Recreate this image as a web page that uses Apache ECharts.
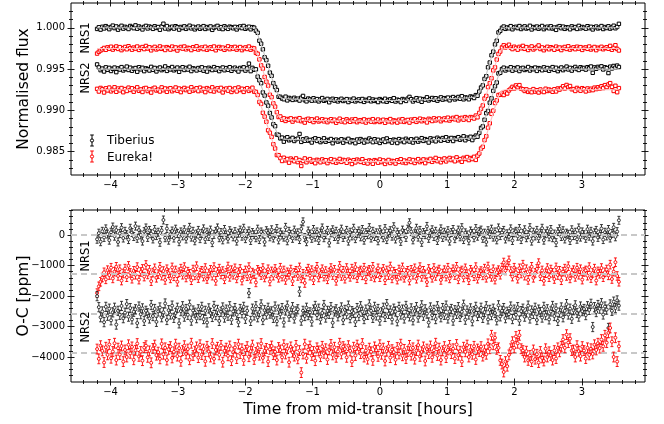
<!DOCTYPE html>
<html><head><meta charset="utf-8">
<script src="https://cdn.jsdelivr.net/npm/echarts@6/dist/echarts.min.js"></script>
<style>html,body{margin:0;padding:0;background:#fff}#c{width:664px;height:424px}</style>
</head><body><div id="c"></div>
<script>
// ---- time sampling (cadence) ----
const tStart = -4.20, tEnd = 3.55, nPts = 300;

// ---- normalised transit shape (fraction of depth) ----
const transitShape = [
0,0,0,0,0,0,0,0,0,0,0,0,0,0,0,0,0,0,0,0,
0,0,0,0,0,0,0,0,0,0,0,0,0,0,0,0,0,0,0,0,
0,0,0,0,0,0,0,0,0,0,0,0,0,0,0,0,0,0,0,0,
0,0,0,0,0,0,0,0,0,0,0,0,0,0,0,0,0,0,0,0,
0,0,0,0,0,0,0,0,0,0,0,
0.03,0.09,0.16,0.23,0.30,0.38,0.46,0.53,0.61,0.68,0.75,0.82,0.88,0.93,0.96,0.973,
0.975,0.976,0.977,0.978,0.979,0.980,0.981,0.982,0.983,0.984,
0.985,0.986,0.987,0.987,0.988,0.989,0.990,0.990,0.991,0.992,
0.992,0.993,0.993,0.994,0.994,0.995,0.995,0.996,0.996,0.996,
0.997,0.997,0.997,0.998,0.998,0.998,0.998,0.999,0.999,0.999,
0.999,0.999,1,1,1,1,1,1,1,1,
1,1,1,1,1,
1,1,1,1,1,1,1,1,0.999,0.999,
0.999,0.998,0.998,0.998,0.997,0.997,0.996,0.996,0.995,0.995,
0.994,0.993,0.993,0.992,0.991,0.990,0.989,0.988,0.987,0.986,
0.985,0.984,0.983,0.982,0.981,0.980,0.979,0.978,0.977,0.976,
0.975,0.974,0.973,0.972,0.971,0.970,0.969,0.968,0.967,0.966,
0.964,0.962,0.960,0.958,0.956,
0.95,0.93,0.89,0.84,0.78,0.71,0.64,0.56,0.48,0.40,0.32,0.24,0.16,0.09,0.04,0.01,
0,0,0,0,0,0,0,0,0,0,0,0,0,0,0,0,0,0,0,0,
0,0,0,0,0,0,0,0,0,0,0,0,0,0,0,0,0,0,0,0,
0,0,0,0,0,0,0,0,0,0,0,0,0,0,0,0,0,0,0,0,
0,0,0,0,0,0,0
];

// ---- out-of-transit levels and depths (top panel) ----
const seriesNames = ['NRS1 Tiberius','NRS1 Eureka!','NRS2 Tiberius','NRS2 Eureka!'];
const baseline = [1.0000, 0.9975, 0.9950, 0.9925];
const depth = [0.0088, 0.0088, 0.0087, 0.0087];
// ---- residual offsets in the O-C panel (ppm) ----
const ocOffsets = [0, -1280, -2560, -3840];
// ---- per-point uncertainties (ppm) ----
const errPpm = [130, 140, 150, 160];

// ---- residuals (ppm) ----
const resNRS1Tiberius = [
-140,60,-220,120,-80,200,30,-170,90,260,-40,160,-230,50,240,-100,120,10,-150,220,
80,-50,290,-110,160,0,-200,110,230,-80,150,40,-130,180,-20,90,-240,150,490,-90,
210,-170,20,130,-100,190,50,-220,100,-30,170,-130,70,250,-70,120,-190,30,150,-120,
50,200,-140,90,-50,160,-250,20,120,230,-90,80,-160,180,0,-130,140,60,-60,110,
-200,60,160,-40,220,-120,40,130,-180,80,10,-90,190,-150,100,30,-230,140,70,-60,
170,-100,50,210,-160,90,0,-70,250,-190,120,20,-110,160,-30,70,-150,200,430,-80,
-220,130,30,-110,180,-70,100,-180,60,230,-90,10,150,-260,70,170,-50,120,-140,50,
190,-80,20,150,-200,90,-30,220,-120,50,130,-60,180,-170,80,10,240,-100,120,-50,
70,-190,170,30,-90,210,-150,60,140,-40,270,-130,90,10,-210,160,50,-80,190,400,
110,-160,40,220,-70,150,-240,80,10,280,-110,60,170,-50,120,-180,30,200,-80,90,
-30,140,-200,80,180,-120,20,160,-60,240,-150,70,0,-190,130,50,-90,210,-40,110,
160,-110,60,-230,140,20,190,-70,100,-160,230,-20,80,150,-130,40,-60,200,-180,70,
120,-40,210,-150,50,170,-90,10,240,-200,90,-30,150,-110,60,220,-170,40,130,-60,
180,-90,30,-250,110,200,-50,140,-130,60,20,-180,170,-20,90,-140,230,-70,100,10,
-110,190,-40,120,-200,70,150,-80,30,210,-150,90,-30,180,-100,50,250,-60,110,480];
const resNRS1Eureka = [
-620,-400,-250,-110,60,-170,130,-30,210,-140,80,240,-60,160,-210,20,180,-100,270,40,
-150,110,-20,230,-180,70,170,-80,300,-10,140,-230,50,190,-120,0,240,-50,100,-190,
160,30,-140,220,-70,120,-250,60,180,-20,230,-110,80,10,-200,150,-40,260,-130,50,
110,-80,200,-160,20,140,-50,230,-220,70,180,-10,100,-170,40,250,-90,130,-20,190,
-140,60,170,-210,10,120,-70,230,-150,50,0,-270,140,80,-30,200,-110,20,160,-240,
90,-50,170,30,-120,210,-80,120,-190,60,-20,150,-230,40,110,-60,220,-140,10,-290,
80,180,-50,130,-200,70,240,-110,30,160,-80,100,-170,50,200,-30,140,-220,20,270,
-60,110,-150,200,20,-90,180,-10,230,-130,70,120,-40,210,-170,90,140,-60,240,-110,
30,190,-100,60,170,-200,120,-30,250,-140,80,10,-180,150,-50,220,-120,40,110,-210,
140,-20,190,-150,60,230,-90,110,-10,-260,170,40,-120,200,-60,90,150,-190,20,130,
-80,210,-140,50,160,-30,240,-170,70,120,-110,190,0,-200,140,60,-70,230,-150,30,
100,-40,180,-120,250,20,-90,160,-180,60,130,-20,210,380,120,290,450,100,-80,210,
60,-150,190,20,310,-50,160,-190,90,240,-120,40,170,360,-70,120,-220,30,200,-100,
150,40,-160,220,-30,110,-200,80,180,-60,260,-140,50,130,-90,210,-20,160,-180,70,
120,-50,230,-130,40,180,-210,90,10,200,-100,60,150,-40,310,-160,80,390,-60,-250];
const resNRS2Tiberius = [
560,200,-130,60,-290,210,-80,150,-230,30,180,-370,80,-50,240,-160,20,300,-110,170,
-200,50,130,-320,220,-30,160,-250,80,0,-170,270,-90,140,-280,60,190,-130,30,320,
-220,100,-40,250,-150,10,180,-330,70,230,-110,140,-50,280,-240,90,20,-160,130,-60,
210,-190,80,-300,160,10,-120,240,-60,110,-250,50,190,-140,120,-80,230,-210,60,170,
-50,-290,140,0,210,-180,80,660,-250,150,-70,230,-130,40,290,-220,100,-40,180,-10,
60,-150,220,-260,120,-30,170,-300,90,250,-110,20,200,-170,60,130,710,-240,80,-90,
180,-60,30,-270,120,240,-60,150,-200,10,270,-140,80,-20,200,-310,60,130,-100,40,
190,-220,110,-30,250,-160,70,10,-280,170,-90,230,50,-190,120,-50,290,80,-150,210,
-70,140,-240,30,180,-120,300,-20,90,-200,150,60,-260,210,-40,120,-170,240,20,-100,
160,-230,70,200,-140,40,260,-80,130,-10,-300,190,-60,110,-190,230,30,-130,170,-50,
250,-170,60,140,-240,100,-20,200,-120,50,280,-210,90,-40,160,-260,70,210,-90,20,
180,-150,40,230,-200,110,-60,150,10,-230,260,-100,80,170,-160,50,-30,220,-190,120,
-50,200,-240,70,150,-110,30,250,-170,90,-20,180,-220,120,40,-140,210,-60,130,-200,
60,240,-90,160,-250,20,190,-130,80,300,-40,150,-180,100,260,10,-110,220,70,140,
-60,230,110,310,-450,200,40,270,150,330,-40,220,120,-480,290,80,380,170,420,250];
const resNRS2Eureka = [
110,-210,220,50,-330,170,-80,260,-190,30,300,-250,140,-70,210,-300,80,-150,250,-30,
180,-240,70,290,-130,30,-270,160,220,-160,50,-340,130,240,-90,10,-210,280,-60,150,
-250,100,190,-180,20,270,-120,140,-290,60,220,-50,110,-240,300,-100,40,180,-170,250,
-70,110,-290,200,30,-150,290,-210,80,170,-80,230,-320,50,140,-110,210,-270,10,160,
-200,270,-40,120,-260,70,190,-140,40,240,-230,0,150,-90,290,-180,50,130,-300,100,
210,-70,20,-250,160,80,-160,250,-50,120,-320,180,10,-120,230,-210,60,-660,-50,270,
-190,90,210,-100,30,-270,150,50,-140,200,-30,120,-230,80,260,-80,170,-160,30,300,
-50,190,110,-160,220,50,-300,170,-100,240,110,-40,290,-150,60,-220,140,20,-260,180,
70,-130,250,-60,140,-280,40,200,-170,90,10,-240,160,-50,270,-110,100,-200,30,230,
-90,150,-220,60,240,-130,20,180,-280,110,-40,210,-160,70,300,-100,140,-250,50,190,
-170,80,230,-40,120,-200,260,-90,40,-300,170,20,240,-150,90,-60,200,-230,110,30,
190,-120,80,-60,280,120,560,250,480,100,150,-260,-380,-640,-300,-450,-80,120,350,150,
520,300,560,120,60,-150,40,-260,-100,-300,80,-220,-60,-330,30,-180,-280,120,-150,20,
-100,-250,60,-200,150,20,200,420,150,580,320,450,60,80,-150,220,40,-120,190,60,
-200,150,-80,120,-50,250,80,300,140,420,200,560,320,640,800,350,-150,480,-300,200];
const residuals = [resNRS1Tiberius, resNRS1Eureka, resNRS2Tiberius, resNRS2Eureka];
const seriesColors = ['#000000', '#ff0000', '#000000', '#ff0000'];
const modelColors = ['#c4c4c4', '#ffc0c0', '#c4c4c4', '#ffc0c0'];

// ---- axis ranges & ticks ----
const xMin = -4.5875, xMax = 3.9375;
const yTopMin = 0.98218, yTopMax = 1.0030;
const yBotMin = -4807, yBotMax = 817;
const xMajor = [-4,-3,-2,-1,0,1,2,3];
const xMinor = [-4.4,-4.2,-3.8,-3.6,-3.4,-3.2,-2.8,-2.6,-2.4,-2.2,-1.8,-1.6,-1.4,-1.2,-0.8,-0.6,-0.4,-0.2,0.2,0.4,0.6,0.8,1.2,1.4,1.6,1.8,2.2,2.4,2.6,2.8,3.2,3.4,3.6,3.8];
const yTopMajor = [0.985,0.990,0.995,1.000];
const yTopMinor = [0.983,0.984,0.986,0.987,0.988,0.989,0.991,0.992,0.993,0.994,0.996,0.997,0.998,0.999,1.001,1.002];
const yBotMajor = [-4000,-3000,-2000,-1000,0];
const yBotMinor = [-4600,-4400,-4200,-3800,-3600,-3400,-3200,-2800,-2600,-2400,-2200,-1800,-1600,-1400,-1200,-800,-600,-400,-200,200,400,600,800];

const FONT = 'DejaVu Sans';
const times = [];
for (let i = 0; i < nPts; i++) times.push(tStart + i * (tEnd - tStart) / (nPts - 1));

const minusFmt = v => (v < 0 ? '\u2212' : '') + Math.abs(Math.round(v * 1000) / 1000);

function axesFor(kind, gridIndex, min, max, major, minor, fmt, labelSide) {
  const sides = kind === 'x' ? ['bottom', 'top'] : ['left', 'right'];
  const out = [];
  sides.forEach(side => {
    [['major', major, 7, -3.5], ['minor', minor, 4, -2]].forEach(([which, vals, len, off]) => {
      const showLab = side === labelSide && which === 'major';
      out.push({
        type: 'value', gridIndex, min, max, position: side, offset: off,
        splitLine: { show: false }, axisLine: { show: false, onZero: false },
        axisTick: { show: true, inside: false, length: len, customValues: vals, lineStyle: { color: '#000', width: 0.9 } },
        minorTick: { show: false },
        axisLabel: showLab ? { show: true, customValues: vals, formatter: fmt, fontSize: 10, color: '#000', fontFamily: FONT, margin: kind === 'x' ? 9 : 9.5 } : { show: false },
        axisPointer: { show: false }
      });
    });
  });
  return out;
}

const xAxes = [
  ...axesFor('x', 0, xMin, xMax, xMajor, xMinor, minusFmt, 'bottom'),
  ...axesFor('x', 1, xMin, xMax, xMajor, xMinor, minusFmt, 'bottom')
];
const yAxes = [
  ...axesFor('y', 0, yTopMin, yTopMax, yTopMajor, yTopMinor, v => v.toFixed(3), 'left'),
  ...axesFor('y', 1, yBotMin, yBotMax, yBotMajor, yBotMinor, minusFmt, 'left')
];

function makeRender(o) {
  return function (params, api) {
    const x = api.value(0), y = api.value(1), e = api.value(2);
    const c = api.coord([x, y]), hi = api.coord([x, y + e]), lo = api.coord([x, y - e]);
    const st = { stroke: o.color, lineWidth: o.lw };
    const m = o.msz / 2;
    const ch = [
      { type: 'line', shape: { x1: c[0], y1: hi[1], x2: c[0], y2: lo[1] }, style: st },
      { type: 'line', shape: { x1: c[0] - o.cap, y1: hi[1], x2: c[0] + o.cap, y2: hi[1] }, style: st },
      { type: 'line', shape: { x1: c[0] - o.cap, y1: lo[1], x2: c[0] + o.cap, y2: lo[1] }, style: st }
    ];
    if (o.marker === 'square') ch.push({ type: 'rect', shape: { x: c[0] - m, y: c[1] - m, width: 2 * m, height: 2 * m }, style: { fill: '#fff', stroke: o.color, lineWidth: o.lw } });
    else ch.push({ type: 'circle', shape: { cx: c[0], cy: c[1], r: m }, style: { fill: '#fff', stroke: o.color, lineWidth: o.lw } });
    return { type: 'group', children: ch, opacity: o.opacity };
  };
}

const series = [];
// Top panel: light curves + model
for (let k = 0; k < 4; k++) {
  const pts = times.map((t, i) => [t, baseline[k] - depth[k] * transitShape[i] + residuals[k][i] * 1e-6, errPpm[k] * 1e-6]);
  const mdl = times.map((t, i) => [t, baseline[k] - depth[k] * transitShape[i]]);
  series.push({
    name: seriesNames[k], type: 'custom', xAxisIndex: 0, yAxisIndex: 0, clip: true, z: 2 + k,
    renderItem: makeRender({ color: seriesColors[k], lw: 1.0, msz: 3.4, cap: 1.2, marker: 'square', opacity: 1 }),
    encode: { x: 0, y: 1 }, data: pts, silent: true
  });
  series.push({
    type: 'line', xAxisIndex: 0, yAxisIndex: 0, data: mdl, showSymbol: false, symbol: 'none', z: 10 + k,
    lineStyle: { color: modelColors[k], width: 1.1 }, silent: true, animation: false
  });
}
// dashed reference levels for O-C panel
series.push({
  type: 'line', xAxisIndex: 4, yAxisIndex: 4, data: [], z: 1, silent: true,
  markLine: { silent: true, symbol: 'none', label: { show: false }, animation: false,
    lineStyle: { color: '#c8c8c8', type: [6, 4], width: 1.8 },
    data: ocOffsets.map(v => ({ yAxis: v })) }
});
// Bottom panel: residuals
for (let k = 0; k < 4; k++) {
  const pts = times.map((t, i) => [t, residuals[k][i] + ocOffsets[k], errPpm[k]]);
  series.push({
    type: 'custom', xAxisIndex: 4, yAxisIndex: 4, clip: true, z: 3 + k,
    renderItem: makeRender({ color: k % 2 === 0 ? '#222222' : '#ff0000', lw: 0.9, msz: 3, cap: 1.5, marker: 'circle', opacity: 0.68 }),
    encode: { x: 0, y: 1 }, data: pts, silent: true
  });
}

function legendIcon(x, yc, color) {
  return [
    { type: 'line', shape: { x1: x, y1: yc - 5.5, x2: x, y2: yc + 5.5 }, style: { stroke: color, lineWidth: 1 } },
    { type: 'line', shape: { x1: x - 1.8, y1: yc - 5.5, x2: x + 1.8, y2: yc - 5.5 }, style: { stroke: color, lineWidth: 1 } },
    { type: 'line', shape: { x1: x - 1.8, y1: yc + 5.5, x2: x + 1.8, y2: yc + 5.5 }, style: { stroke: color, lineWidth: 1 } },
    { type: 'circle', shape: { cx: x, cy: yc, r: 1.6 }, style: { fill: '#fff', stroke: color, lineWidth: 1 } }
  ];
}
const rotText = (txt, x, y, size) => ({ type: 'text', x, y, rotation: Math.PI / 2, style: { text: txt, fill: '#000', font: size + 'px "' + FONT + '"', align: 'center', verticalAlign: 'middle' }, z: 50 });

const lengthsOk = [transitShape, ...residuals].every(a => a.length === nPts);

const option = {
  animation: false,
  backgroundColor: '#fff',
  title: lengthsOk ? { show: false } : { text: 'LEN ' + [transitShape, ...residuals].map(a => a.length).join(','), left: 200, top: 100 },
  grid: [
    { left: 71, right: 19, top: 3, height: 172, show: true, borderColor: '#000', borderWidth: 1, backgroundColor: 'transparent' },
    { left: 71, right: 19, top: 210, height: 172, show: true, borderColor: '#000', borderWidth: 1, backgroundColor: 'transparent' }
  ],
  xAxis: xAxes,
  yAxis: yAxes,
  series,
  graphic: [
    ...legendIcon(92, 140.5, '#000'), ...legendIcon(92, 156.5, '#ff0000'),
    { type: 'text', x: 107, y: 141, style: { text: 'Tiberius', fill: '#000', font: '12px "' + FONT + '"', verticalAlign: 'middle' }, z: 50 },
    { type: 'text', x: 107, y: 158, style: { text: 'Eureka!', fill: '#000', font: '12px "' + FONT + '"', verticalAlign: 'middle' }, z: 50 },
    rotText('NRS1', 86, 38, 11.5), rotText('NRS2', 86, 78, 11.5),
    rotText('NRS1', 86, 256, 11.5), rotText('NRS2', 86, 327, 11.5),
    rotText('Normalised flux', 24, 89, 15.5), rotText('O-C [ppm]', 24, 296, 15.5),
    { type: 'text', x: 358, y: 410, style: { text: 'Time from mid-transit [hours]', fill: '#000', font: '15.5px "' + FONT + '"', align: 'center', verticalAlign: 'middle' }, z: 50 }
  ]
};
const chart = echarts.init(document.getElementById('c'), null, { renderer: 'canvas' });
chart.setOption(option);
</script></body></html>
